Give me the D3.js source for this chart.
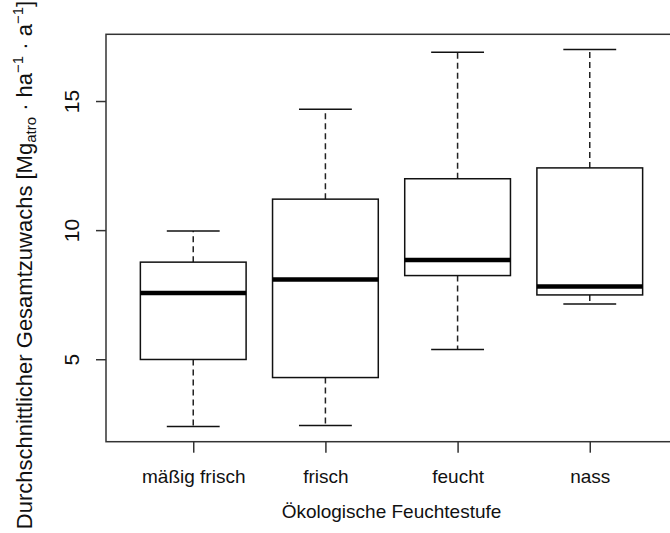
<!DOCTYPE html>
<html>
<head>
<meta charset="utf-8">
<script src="https://cdn.jsdelivr.net/npm/d3@7"></script>
<style>
	body { margin: 0; background: #fff; }
	text { font-family: "Liberation Sans", Arial, sans-serif; fill: #111; }
</style>
</head>
<body>
<script>

// boxplot statistics
var categories = ["mäßig frisch", "frisch", "feucht", "nass"];
var lower_whisker = [2.39, 2.43, 5.38, 7.14];
var q1 = [4.99, 4.29, 8.24, 7.49];
var median = [7.56, 8.09, 8.84, 7.82];
var q3 = [8.76, 11.2, 11.99, 12.41];
var upper_whisker = [9.97, 14.68, 16.89, 17.0];
var y_ticks = [5, 10, 15];

var width = 670,
	height = 533;

// plot region (right edge runs past the picture, like the reference)
var plot = {left: 106, right: 677, top: 34.3, bottom: 441.7};

var FONTSIZE = 19;
var BOXWEX = 0.8;

var data = categories.map(function(c, i) {
	return {name: c, pos: i + 1, lo: lower_whisker[i], q1: q1[i],
			med: median[i], q3: q3[i], hi: upper_whisker[i]};
});

// R style 4% padding of the ranges
var ymin = d3.min(lower_whisker), ymax = d3.max(upper_whisker);
var ypad = (ymax - ymin) * 0.04;
var y = d3.scaleLinear()
	.domain([ymin - ypad, ymax + ypad])
	.range([plot.bottom, plot.top]);

var x = d3.scaleLinear()
	.domain([0.5 - 0.16, categories.length + 0.5 + 0.16])
	.range([plot.left, plot.right]);

var svg = d3.select("body").append("svg")
	.attr("width", width)
	.attr("height", height);

var half = (x(1 + BOXWEX / 2) - x(1));

var box = svg.append("g")
	.selectAll("g")
	.data(data)
	.enter().append("g");

// dashed whiskers
box.append("line")
	.attr("x1", function(d) { return x(d.pos); })
	.attr("x2", function(d) { return x(d.pos); })
	.attr("y1", function(d) { return y(d.q3); })
	.attr("y2", function(d) { return y(d.hi); })
	.attr("stroke", "#222")
	.attr("stroke-width", 1.5)
	.attr("stroke-dasharray", "6,4");

box.append("line")
	.attr("x1", function(d) { return x(d.pos); })
	.attr("x2", function(d) { return x(d.pos); })
	.attr("y1", function(d) { return y(d.q1); })
	.attr("y2", function(d) { return y(d.lo); })
	.attr("stroke", "#222")
	.attr("stroke-width", 1.5)
	.attr("stroke-dasharray", "6,4");

// staples
["hi", "lo"].forEach(function(k) {
	box.append("line")
		.attr("x1", function(d) { return x(d.pos) - half / 2; })
		.attr("x2", function(d) { return x(d.pos) + half / 2; })
		.attr("y1", function(d) { return y(d[k]); })
		.attr("y2", function(d) { return y(d[k]); })
		.attr("stroke", "#111")
		.attr("stroke-width", 1.5);
});

// boxes
box.append("rect")
	.attr("x", function(d) { return x(d.pos) - half; })
	.attr("y", function(d) { return y(d.q3); })
	.attr("width", 2 * half)
	.attr("height", function(d) { return y(d.q1) - y(d.q3); })
	.attr("fill", "white")
	.attr("stroke", "#111")
	.attr("stroke-width", 1.5);

// medians
box.append("line")
	.attr("x1", function(d) { return x(d.pos) - half; })
	.attr("x2", function(d) { return x(d.pos) + half; })
	.attr("y1", function(d) { return y(d.med); })
	.attr("y2", function(d) { return y(d.med); })
	.attr("stroke", "#000")
	.attr("stroke-width", 4.5);

// plot frame
svg.append("rect")
	.attr("x", plot.left)
	.attr("y", plot.top)
	.attr("width", plot.right - plot.left)
	.attr("height", plot.bottom - plot.top)
	.attr("fill", "none")
	.attr("stroke", "#333")
	.attr("stroke-width", 1.5);

// y axis
var y_axis = svg.append("g")
	.attr("transform", "translate(" + plot.left + ",0)")
	.call(d3.axisLeft(y).tickValues(y_ticks).tickSize(10).tickFormat(d3.format("d")));
y_axis.select(".domain").remove();
y_axis.selectAll("line").attr("stroke", "#333").attr("stroke-width", 1.5);
y_axis.selectAll("text")
	.attr("x", null).attr("dy", null)
	.attr("transform", "translate(-27,0) rotate(-90)")
	.attr("text-anchor", "middle")
	.style("font-size", "21px")
	.style("font-family", "Liberation Sans, Arial, sans-serif")
	.attr("fill", "#111");

// x axis
var x_axis = svg.append("g")
	.attr("transform", "translate(0," + plot.bottom + ")")
	.call(d3.axisBottom(x).tickValues(d3.range(1, categories.length + 1))
		.tickSize(11)
		.tickFormat(function(d) { return categories[d - 1]; }));
x_axis.select(".domain").remove();
x_axis.selectAll("line").attr("stroke", "#333").attr("stroke-width", 1.5);
x_axis.selectAll("text")
	.attr("y", 41.5).attr("dy", null)
	.style("font-size", FONTSIZE + "px")
	.style("font-family", "Liberation Sans, Arial, sans-serif")
	.attr("fill", "#111");

// x axis title
svg.append("text")
	.attr("x", (plot.left + plot.right) / 2)
	.attr("y", 518)
	.attr("text-anchor", "middle")
	.style("font-size", FONTSIZE + "px")
	.text("Ökologische Feuchtestufe");

// y axis title with sub- and superscripts
var ytitle = svg.append("text")
	.attr("transform", "translate(32," + 265 + ") rotate(-90)")
	.attr("text-anchor", "middle")
	.style("font-size", "22px");
ytitle.append("tspan").text("Durchschnittlicher Gesamtzuwachs [Mg");
ytitle.append("tspan").attr("dy", 4).style("font-size", "15px").text("atro");
ytitle.append("tspan").attr("dy", -4).text(" \u00B7 ha");
ytitle.append("tspan").attr("dy", -9).style("font-size", "15px").text("\u22121");
ytitle.append("tspan").attr("dy", 9).text(" \u00B7 a");
ytitle.append("tspan").attr("dy", -9).style("font-size", "15px").text("\u22121");
ytitle.append("tspan").attr("dy", 9).text("]");

</script>
</body>
</html>
